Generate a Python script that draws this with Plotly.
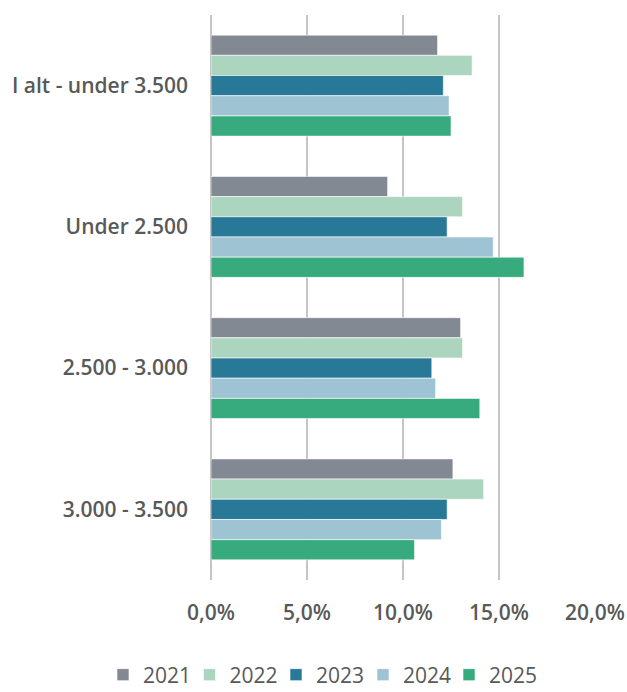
import plotly.graph_objects as go

categories = ["I alt - under 3.500", "Under 2.500", "2.500 - 3.000", "3.000 - 3.500"]
years = ["2021", "2022", "2023", "2024", "2025"]
values = {
    "2021": [11.8, 9.2, 13.0, 12.6],
    "2022": [13.6, 13.1, 13.1, 14.2],
    "2023": [12.1, 12.3, 11.5, 12.3],
    "2024": [12.4, 14.7, 11.7, 12.0],
    "2025": [12.5, 16.3, 14.0, 10.6],
}
colors = {
    "2021": "#838993",
    "2022": "#acd5c0",
    "2023": "#287898",
    "2024": "#9ec3d2",
    "2025": "#37aa7e",
}
tick_vals = [0, 5, 10, 15, 20]
tick_text = ["0,0%", "5,0%", "10,0%", "15,0%", "20,0%"]

W, H = 627, 692
legend_left_px = [103, 189.5, 276, 363, 449]

fig = go.Figure()
legend_layout = {}
for i, yr in enumerate(years):
    lname = "legend" if i == 0 else f"legend{i + 1}"
    fig.add_trace(go.Bar(
        y=categories, x=values[yr], name=yr, orientation="h", legend=lname,
        marker=dict(color=colors[yr], line=dict(color="rgba(255,255,255,0.6)", width=1)),
    ))
    legend_layout[lname] = dict(
        orientation="h", xref="container", x=legend_left_px[i] / W, xanchor="left",
        yref="container", y=(H - 675) / H, yanchor="middle",
        font=dict(size=21, color="#595959", family="Open Sans"),
        itemwidth=30, bgcolor="rgba(0,0,0,0)",
    )

fig.update_layout(
    width=W, height=H,
    margin=dict(l=211, r=32, t=15, b=112),
    barmode="group", bargap=0.285, bargroupgap=0,
    plot_bgcolor="white", paper_bgcolor="white",
    font=dict(family="Open Sans", color="#595959", size=21),
    showlegend=True,
    **legend_layout,
)
fig.update_xaxes(range=[0, 20], tickvals=tick_vals, ticktext=tick_text, automargin=False,
                 showgrid=True, gridcolor="#c4c4c4", gridwidth=1.5,
                 zeroline=True, zerolinecolor="#c4c4c4", zerolinewidth=1.5,
                 tickfont=dict(size=21, color="#595959", family="Open Sans", weight=600),
                 ticklabelstandoff=18, fixedrange=True)
fig.update_yaxes(autorange="reversed", showgrid=False, automargin=False,
                 tickfont=dict(size=21, color="#595959", family="Open Sans", weight=600),
                 ticklabelstandoff=22, fixedrange=True)

fig.write_html("out.html", post_script="document.body.style.margin='0px';",
               config={"displayModeBar": False})
